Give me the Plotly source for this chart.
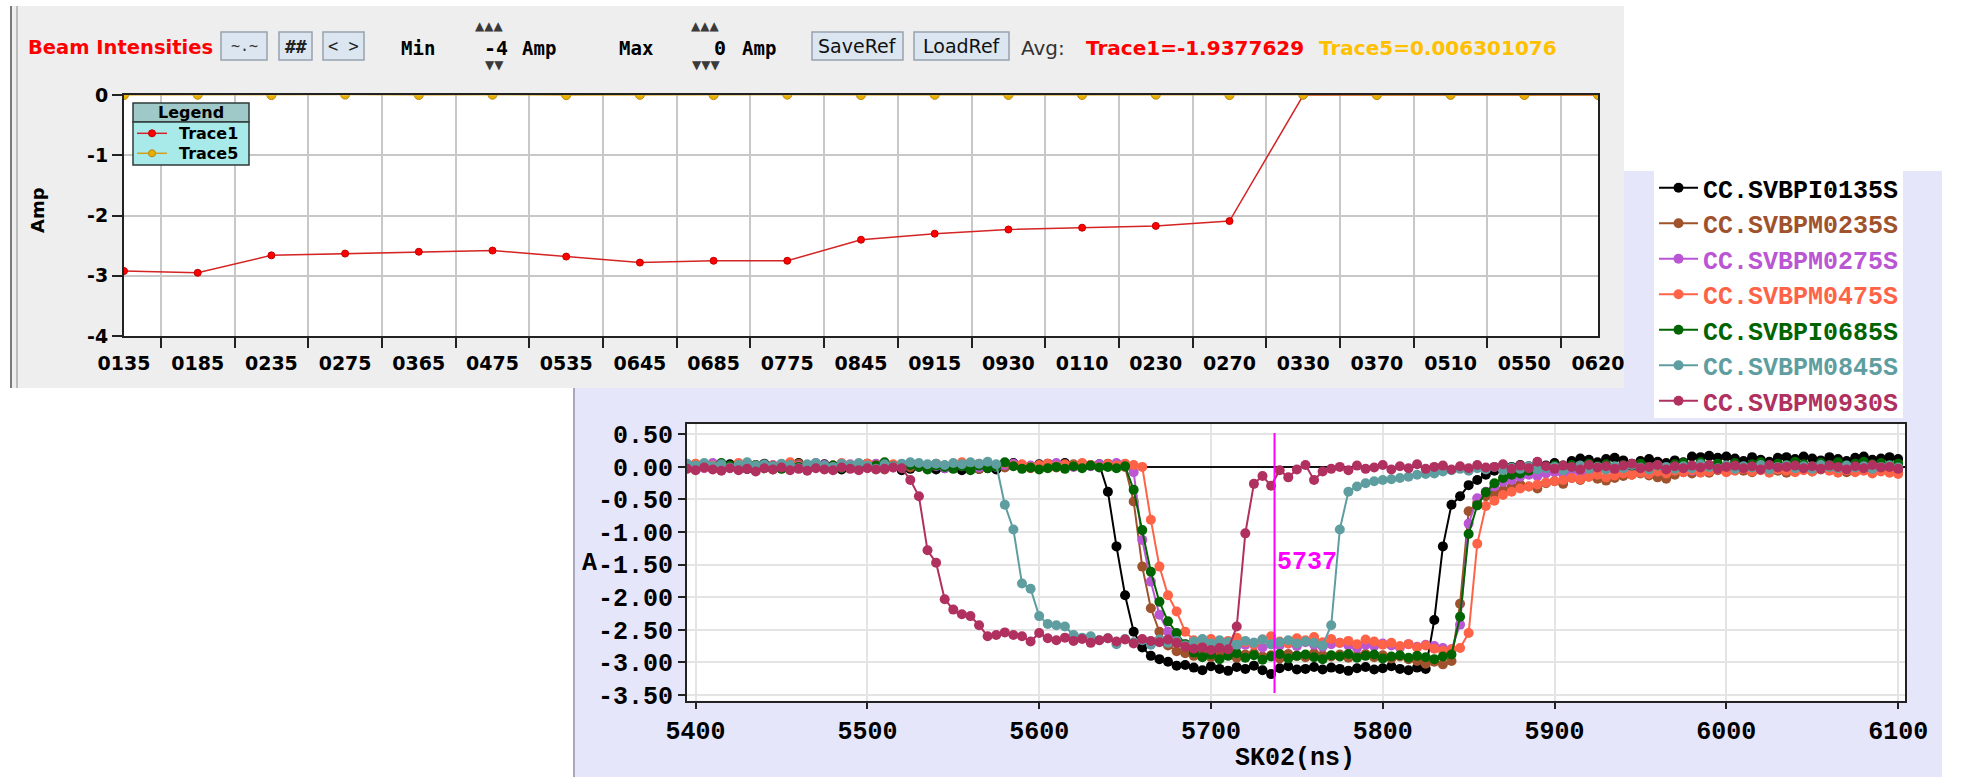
import plotly.graph_objects as go

W, H = 1973, 777

TOP_FONT = "DejaVu Sans"
TOP_MONO = "DejaVu Sans Mono"
MONO = "Liberation Mono"

# ---------------- upper panel: average beam intensity per monitor ----------------
MONITORS = ["0135", "0185", "0235", "0275", "0365", "0475", "0535", "0645", "0685", "0775",
            "0845", "0915", "0930", "0110", "0230", "0270", "0330", "0370", "0510", "0550", "0620"]
TRACE1 = [-2.92, -2.95, -2.66, -2.63, -2.60, -2.58, -2.68, -2.78, -2.75, -2.75,
          -2.40, -2.30, -2.23, -2.20, -2.17, -2.09, 0.0, 0.0, 0.0, 0.0, 0.0]
TRACE5 = [0.004, 0.009, 0.003, 0.012, 0.005, 0.010, 0.002, 0.007, 0.004, 0.011,
          0.003, 0.008, 0.006, 0.005, 0.010, 0.004, 0.009, 0.003, 0.007, 0.005, 0.005]
AMP_TICKS = [0, -1, -2, -3, -4]

# ---------------- lower panel: sampled pick-up signals ----------------
T0_NS = 5395      # first sample time
DT_NS = 5         # sampling period
CURSOR_NS = 5737

SVBPI0135 = [
    0.02, -0.01, 0.03, 0.00, -0.02, 0.04, 0.01, -0.03, 0.02, 0.05,
    0.00, -0.02, 0.03, 0.06, 0.01, -0.01, 0.04, 0.02, -0.04, 0.01,
    0.03, 0.05, -0.02, 0.00, 0.02, -0.05, -0.03, 0.01, 0.00, -0.04,
    -0.02, 0.01, -0.05, 0.00, -0.03, -0.02, -0.04, 0.00, 0.06, 0.02,
    -0.01, 0.04, 0.05, 0.01, 0.06, 0.03, 0.05, 0.02, 0.04, -0.38,
    -1.22, -1.97, -2.53, -2.77, -2.90, -2.95, -2.99, -3.05, -3.04, -3.08,
    -3.12, -3.06, -3.10, -3.13, -3.07, -3.10, -3.05, -3.12, -3.18, -3.09,
    -3.06, -3.11, -3.10, -3.07, -3.11, -3.08, -3.10, -3.13, -3.09, -3.07,
    -3.11, -3.09, -3.06, -3.10, -3.12, -3.08, -3.10, -2.35, -1.22, -0.58,
    -0.45, -0.28, -0.20, -0.12, -0.06, -0.02, 0.00, 0.03, 0.01, 0.04,
    0.02, 0.06, 0.02, 0.09, 0.13, 0.11, 0.07, 0.12, 0.14, 0.10,
    0.05, 0.09, 0.12, 0.08, 0.06, 0.10, 0.07, 0.16, 0.15, 0.17,
    0.14, 0.16, 0.13, 0.09, 0.15, 0.11, 0.08, 0.14, 0.15, 0.12,
    0.16, 0.13, 0.10, 0.15, 0.12, 0.09, 0.14, 0.16, 0.11, 0.13,
    0.15, 0.12]

SVBPM0235 = [
    -0.01, 0.03, 0.01, -0.03, 0.02, 0.00, 0.04, -0.02, 0.01, 0.03,
    -0.04, 0.02, 0.00, 0.05, -0.01, 0.02, -0.03, 0.01, 0.04, 0.00,
    -0.02, 0.03, 0.01, -0.04, 0.02, 0.00, -0.01, 0.03, -0.03, 0.02,
    0.01, -0.02, 0.04, 0.00, -0.03, 0.02, 0.01, -0.01, 0.03, 0.00,
    -0.02, 0.01, 0.03, -0.01, 0.02, 0.04, 0.00, 0.03, 0.01, 0.05,
    0.02, 0.00, -0.53, -1.53, -2.17, -2.53, -2.74, -2.83, -2.86, -2.90,
    -2.87, -2.92, -2.85, -2.89, -2.93, -2.88, -2.86, -2.91, -2.89, -2.94,
    -2.87, -2.90, -2.92, -2.86, -2.89, -2.91, -2.88, -2.93, -2.90, -2.87,
    -2.92, -2.89, -2.94, -2.91, -2.95, -2.98, -3.02, -2.99, -3.03, -2.98,
    -2.10, -0.68, -0.55, -0.45, -0.40, -0.36, -0.31, -0.27, -0.30, -0.33,
    -0.25, -0.22, -0.26, -0.17, -0.20, -0.15, -0.18, -0.21, -0.17, -0.14,
    -0.12, -0.10, -0.13, -0.16, -0.18, -0.12, -0.08, -0.10, -0.06, -0.09,
    -0.05, -0.07, -0.03, -0.06, -0.08, -0.04, -0.02, -0.06, -0.09, -0.05,
    -0.03, -0.07, -0.04, -0.02, -0.06, -0.08, -0.03, -0.05, -0.07, -0.04,
    -0.06, -0.08]

SVBPM0275 = [
    0.04, 0.01, -0.02, 0.06, 0.02, -0.01, 0.03, 0.05, 0.00, 0.02,
    0.03, -0.01, 0.05, 0.02, 0.00, 0.06, 0.03, -0.02, 0.01, 0.04,
    0.02, 0.00, 0.05, 0.03, -0.01, 0.02, 0.04, 0.00, 0.03, 0.01,
    -0.02, 0.03, 0.01, 0.04, -0.01, 0.02, 0.00, 0.03, 0.05, 0.01,
    0.02, -0.01, 0.04, 0.06, 0.02, 0.00, 0.03, 0.01, 0.04, 0.02,
    0.06, 0.03, -0.08, -1.12, -1.76, -2.27, -2.53, -2.66, -2.72, -2.74,
    -2.70, -2.76, -2.72, -2.69, -2.75, -2.73, -2.70, -2.77, -2.72, -2.74,
    -2.71, -2.75, -2.69, -2.73, -2.76, -2.72, -2.70, -2.74, -2.78, -2.73,
    -2.75, -2.71, -2.74, -2.77, -2.72, -2.76, -2.73, -2.75, -2.78, -2.80,
    -2.42, -0.87, -0.48, -0.38, -0.30, -0.23, -0.20, -0.15, -0.12, -0.14,
    -0.10, -0.08, -0.11, -0.06, -0.09, -0.05, -0.07, -0.04, -0.08, -0.03,
    -0.06, -0.02, -0.05, -0.07, -0.03, -0.01, -0.04, -0.06, -0.02, 0.00,
    -0.03, -0.05, 0.01, -0.02, -0.04, 0.02, -0.01, -0.03, 0.00, -0.02,
    0.01, -0.03, -0.01, 0.02, -0.02, 0.00, -0.04, 0.01, -0.01, -0.03,
    0.00, -0.02]

SVBPM0475 = [
    0.01, 0.05, -0.01, 0.02, 0.04, 0.00, 0.06, 0.02, 0.03, -0.01,
    0.02, 0.04, 0.07, 0.01, 0.03, 0.05, 0.00, 0.02, 0.06, 0.03,
    0.01, 0.05, 0.03, 0.00, 0.04, 0.02, 0.06, 0.01, 0.03, 0.05,
    0.02, 0.00, 0.07, 0.03, 0.05, 0.01, 0.03, 0.06, 0.02, 0.04,
    0.00, 0.03, 0.05, 0.01, 0.04, 0.02, 0.06, 0.03, 0.00, 0.04,
    0.02, 0.05, 0.03, 0.00, -0.81, -1.53, -1.97, -2.22, -2.53, -2.66,
    -2.70, -2.64, -2.72, -2.67, -2.62, -2.69, -2.73, -2.65, -2.60, -2.68,
    -2.71, -2.63, -2.66, -2.61, -2.69, -2.64, -2.70, -2.67, -2.72, -2.65,
    -2.68, -2.73, -2.70, -2.75, -2.72, -2.77, -2.74, -2.79, -2.82, -2.80,
    -2.78, -2.55, -1.18, -0.60, -0.52, -0.43, -0.38, -0.33, -0.30, -0.27,
    -0.24, -0.22, -0.20, -0.17, -0.19, -0.15, -0.12, -0.16, -0.13, -0.10,
    -0.12, -0.09, -0.11, -0.07, -0.10, -0.06, -0.08, -0.05, -0.09, -0.07,
    -0.04, -0.08, -0.06, -0.03, -0.07, -0.05, -0.09, -0.04, -0.06, -0.08,
    -0.05, -0.07, -0.03, -0.06, -0.09, -0.05, -0.08, -0.06, -0.10, -0.07,
    -0.09, -0.11]

SVBPI0685 = [
    -0.02, 0.01, 0.04, -0.01, 0.06, 0.02, -0.03, 0.00, 0.03, -0.02,
    0.01, -0.03, 0.02, 0.00, -0.04, 0.03, -0.01, 0.02, -0.02, 0.01,
    0.04, -0.01, 0.02, 0.07, 0.01, -0.02, 0.03, 0.00, -0.04, 0.02,
    0.00, -0.03, 0.01, -0.05, 0.02, -0.02, 0.00, 0.07, 0.01, -0.03,
    -0.01, -0.04, -0.02, 0.00, -0.03, 0.01, -0.02, 0.02, -0.01, 0.00,
    -0.02, 0.01, -0.35, -0.97, -1.61, -2.07, -2.37, -2.55, -2.72, -2.85,
    -2.92, -2.88, -2.95, -2.90, -2.86, -2.93, -2.89, -2.96, -2.91, -2.87,
    -2.94, -2.90, -2.88, -2.92, -2.95, -2.89, -2.91, -2.87, -2.93, -2.90,
    -2.88, -2.94, -2.91, -2.89, -2.93, -2.90, -2.92, -2.95, -2.91, -2.88,
    -2.30, -1.03, -0.59, -0.39, -0.25, -0.17, -0.12, -0.10, -0.06, -0.03,
    -0.01, 0.02, -0.02, 0.03, 0.00, 0.05, 0.01, 0.04, -0.01, 0.03,
    0.02, 0.05, 0.00, 0.03, -0.02, 0.04, 0.06, 0.01, 0.07, 0.03,
    0.05, 0.02, 0.06, 0.00, 0.04, 0.07, 0.02, 0.05, 0.03, 0.08,
    0.04, 0.01, 0.06, 0.03, 0.07, 0.02, 0.05, 0.08, 0.04, 0.06,
    0.03, 0.05]

SVBPM0845 = [
    0.05, 0.02, 0.06, 0.01, 0.04, -0.01, 0.03, 0.07, 0.02, 0.04,
    0.01, 0.05, 0.03, -0.02, 0.04, 0.06, 0.02, 0.00, 0.05, 0.03,
    0.06, 0.02, -0.03, 0.04, 0.01, 0.05, 0.07, 0.06, 0.04, 0.05,
    0.03, 0.06, 0.04, 0.07, 0.05, 0.08, 0.04, -0.58, -0.96, -1.79,
    -1.87, -2.29, -2.41, -2.43, -2.45, -2.58, -2.62, -2.60, -2.66, -2.63,
    -2.72, -2.64, -2.69, -2.66, -2.73, -2.65, -2.70, -2.67, -2.74, -2.68,
    -2.64, -2.71, -2.66, -2.69, -2.73, -2.67, -2.70, -2.65, -2.72, -2.69,
    -2.66, -2.71, -2.68, -2.70, -2.74, -2.43, -0.96, -0.38, -0.30, -0.25,
    -0.22, -0.20, -0.19, -0.17, -0.15, -0.12, -0.11, -0.10, -0.07, -0.05,
    -0.03, -0.06, -0.02, -0.04, 0.00, -0.05, -0.01, -0.03, 0.01, -0.04,
    -0.02, 0.00, -0.05, -0.01, 0.02, -0.03, 0.00, -0.04, 0.01, -0.02,
    0.03, -0.01, -0.04, 0.02, 0.00, -0.03, 0.01, -0.02, 0.04, 0.00,
    -0.02, 0.02, -0.03, 0.01, -0.01, 0.03, -0.04, 0.00, 0.02, -0.02,
    0.01, -0.03, 0.03, 0.00, -0.02, 0.02, -0.01, 0.01, -0.03, 0.00,
    0.02, -0.01]

SVBPM0930 = [
    -0.03, -0.05, -0.01, -0.04, -0.06, -0.02, -0.05, -0.03, -0.07, -0.02,
    -0.04, -0.01, -0.05, -0.03, -0.06, -0.02, -0.04, -0.05, -0.01, -0.03,
    -0.05, -0.02, -0.04, -0.03, -0.01, -0.02, -0.20, -0.45, -1.28, -1.47,
    -2.03, -2.19, -2.26, -2.29, -2.43, -2.60, -2.58, -2.54, -2.58, -2.60,
    -2.68, -2.55, -2.63, -2.66, -2.62, -2.67, -2.64, -2.70, -2.66, -2.63,
    -2.68, -2.65, -2.71, -2.64, -2.67, -2.69, -2.65, -2.70, -2.76, -2.79,
    -2.77, -2.81, -2.78, -2.80, -2.45, -1.02, -0.26, -0.14, -0.29, -0.05,
    -0.16, -0.04, 0.03, -0.20, -0.07, -0.03, 0.00, -0.05, 0.02, -0.03,
    -0.01, 0.03, -0.04, 0.01, -0.02, 0.04, -0.03, 0.00, 0.02, -0.04,
    0.01, -0.02, 0.03, -0.01, 0.00, 0.04, -0.03, 0.02, -0.02, 0.08,
    0.01, -0.03, 0.02, 0.00, -0.04, 0.03, -0.01, 0.01, -0.03, 0.02,
    0.05, -0.02, 0.00, 0.03, -0.04, 0.01, -0.02, 0.02, -0.01, 0.03,
    -0.03, 0.00, 0.02, -0.02, 0.01, -0.04, 0.03, -0.01, 0.00, 0.02,
    -0.02, 0.01, -0.03, 0.02, 0.00, -0.04, 0.01, -0.02, 0.03, -0.01,
    0.00, -0.03]

SIGNAL_NAMES = ["CC.SVBPI0135S", "CC.SVBPM0235S", "CC.SVBPM0275S", "CC.SVBPM0475S",
                "CC.SVBPI0685S", "CC.SVBPM0845S", "CC.SVBPM0930S"]
SIGNAL_COLORS = ["#000000", "#A0522D", "#BA55D3", "#FF6347", "#006400", "#5F9EA0", "#B0305F"]
SIGNALS = [SVBPI0135, SVBPM0235, SVBPM0275, SVBPM0475, SVBPI0685, SVBPM0845, SVBPM0930]

X_TICKS = [5400, 5500, 5600, 5700, 5800, 5900, 6000, 6100]
Y_TICKS = [0.5, 0.0, -0.5, -1.0, -1.5, -2.0, -2.5, -3.0, -3.5]

for s in SIGNALS:
    assert len(s) == len(SIGNALS[0])
TIMES = [T0_NS + DT_NS * i for i in range(len(SVBPI0135))]


# ---------------- helpers: pixel -> paper coordinates ----------------
def fx(px):
    return px / W


def fy(py):
    return 1 - py / H


def rect(x0, y0, x1, y1, fill, line=None, lw=0, layer="below"):
    return dict(type="rect", xref="paper", yref="paper",
                x0=fx(x0), x1=fx(x1), y0=fy(y1), y1=fy(y0),
                fillcolor=fill, line=dict(color=line or fill, width=lw), layer=layer)


def hline(x0, x1, y, color, lw, layer="below"):
    return dict(type="line", xref="paper", yref="paper", x0=fx(x0), x1=fx(x1),
                y0=fy(y), y1=fy(y), line=dict(color=color, width=lw), layer=layer)


def vline(x, y0, y1, color, lw, layer="below"):
    return dict(type="line", xref="paper", yref="paper", x0=fx(x), x1=fx(x),
                y0=fy(y0), y1=fy(y1), line=dict(color=color, width=lw), layer=layer)


def dot(cx, cy, r, fill, edge, layer="above"):
    return dict(type="circle", xref="paper", yref="paper",
                x0=fx(cx - r), x1=fx(cx + r), y0=fy(cy + r), y1=fy(cy - r),
                fillcolor=fill, line=dict(color=edge, width=1), layer=layer)


def text(s, x, y, size, color="#000000", family=TOP_FONT, weight="normal",
         xanchor="left", yanchor="middle", angle=0):
    return dict(text=s, x=fx(x), y=fy(y), xref="paper", yref="paper", showarrow=False,
                xanchor=xanchor, yanchor=yanchor, textangle=angle,
                font=dict(family=family, size=size, color=color, weight=weight))


fig = go.Figure()

# upper panel traces
idx = list(range(len(MONITORS)))
fig.add_trace(go.Scatter(
    x=idx, y=TRACE1, xaxis="x", yaxis="y", mode="lines+markers", showlegend=False,
    line=dict(color="#D42424", width=1.5),
    marker=dict(color="#FF0000", size=7, line=dict(color="#C00000", width=1))))
fig.add_trace(go.Scatter(
    x=idx, y=TRACE5, xaxis="x", yaxis="y", mode="lines+markers", showlegend=False,
    line=dict(color="#D4A017", width=1.5),
    marker=dict(color="#E8B000", size=9, line=dict(color="#B8860B", width=1))))

# lower panel traces
for name, color, vals in zip(SIGNAL_NAMES, SIGNAL_COLORS, SIGNALS):
    fig.add_trace(go.Scatter(
        x=TIMES, y=vals, xaxis="x2", yaxis="y2", mode="lines+markers",
        name=f'<span style="color:{color}">{name}</span>',
        line=dict(color=color, width=2),
        marker=dict(color=color, size=10)))

# ---------------- backgrounds and widgets ----------------
shapes = [
    rect(574, 171, 1942, 777, "#E6E6FA"),
    vline(574, 388, 777, "#A9A9BC", 2),
    rect(10, 6, 1624, 388, "#EEEEEE"),
    vline(11, 6, 388, "#7A7A7A", 2),
    vline(17, 6, 388, "#ABABAB", 1.5),
    rect(124, 95.3, 1598, 336, "#FFFFFF"),
    rect(687, 424.3, 1905, 700.7, "#FFFFFF"),
    rect(1654, 171, 1903, 418, "#FFFFFF"),
]
buttons = [(221, 267), (279, 312), (323, 364), (812, 903), (914, 1009)]
for bx0, bx1 in buttons:
    shapes.append(rect(bx0, 32, bx1, 60, "#DCE6F0", "#97A3AE", 1.5))

# legend box of the upper panel
shapes += [
    rect(133, 103, 249, 122, "#9FC9C9", "#2F3A3A", 1.5, layer="above"),
    rect(133, 122, 249, 165, "#A8E9E9", "#2F3A3A", 1.5, layer="above"),
    hline(137, 167, 133.3, "#D42424", 1.5, layer="above"),
    dot(152, 133.3, 3.5, "#FF0000", "#C00000"),
    hline(137, 167, 153.3, "#D4A017", 1.5, layer="above"),
    dot(152, 153.3, 3.5, "#E8B000", "#B8860B"),
]

# cursor in the lower panel
shapes.append(dict(type="line", xref="x2", yref="y2", x0=CURSOR_NS, x1=CURSOR_NS,
                   y0=-3.47, y1=0.52, line=dict(color="#FF00FF", width=2), layer="above"))

annotations = [
    text("Beam Intensities", 26, 47.5, 19.5, "#FF0000", weight="bold"),
    text("~.~", 244, 46, 15, "#333333", TOP_MONO, xanchor="center"),
    text("##", 295.5, 46, 18, "#222222", TOP_MONO, "bold", xanchor="center"),
    text("< >", 343.5, 46, 17, "#222222", TOP_MONO, xanchor="center"),
    text("Min", 399, 47.5, 19, "#000000", TOP_MONO, "bold"),
    text("▲▲▲", 488.5, 26, 12, "#3A3A3A", xanchor="center"),
    text("-4", 510, 47.5, 20, "#000000", TOP_MONO, "bold", xanchor="right"),
    text("▼▼", 495, 65, 12, "#3A3A3A", xanchor="center"),
    text("Amp", 520, 47.5, 19, "#000000", TOP_MONO, "bold"),
    text("Max", 617, 47.5, 19, "#000000", TOP_MONO, "bold"),
    text("▲▲▲", 705, 26, 12, "#3A3A3A", xanchor="center"),
    text("0", 728, 47.5, 20, "#000000", TOP_MONO, "bold", xanchor="right"),
    text("▼▼▼", 705.5, 65, 12, "#3A3A3A", xanchor="center"),
    text("Amp", 740, 47.5, 19, "#000000", TOP_MONO, "bold"),
    text("SaveRef", 857.5, 46, 19, "#111111", xanchor="center"),
    text("LoadRef", 961.5, 46, 19, "#111111", xanchor="center"),
    text("Avg:", 1019, 47.5, 20, "#333333"),
    text("Trace1=-1.9377629", 1084, 47.5, 20, "#FF0000", weight="bold"),
    text("Trace5=0.006301076", 1317, 47.5, 20, "#FFC000", weight="bold"),
    text("Amp", 37, 210, 18, "#000000", weight="bold", xanchor="center", angle=-90),
    text("Legend", 191, 112.5, 16, "#000000", weight="bold", xanchor="center"),
    text("Trace1", 177, 133.3, 16, "#000000", weight="bold"),
    text("Trace5", 177, 153.3, 16, "#000000", weight="bold"),
    text("A", 589, 563, 25, "#000000", MONO, "bold", xanchor="center"),
    text("SK02(ns)", 1295, 758, 25, "#000000", MONO, "bold", xanchor="center"),
    dict(text=str(CURSOR_NS), x=CURSOR_NS, y=-1.47, xref="x2", yref="y2", showarrow=False,
         xanchor="left", yanchor="middle",
         font=dict(family=MONO, size=25, color="#FF00FF", weight="bold")),
]

top_tick_font = dict(family=TOP_FONT, size=19, color="#000000", weight="bold")
mono_tick_font = dict(family=MONO, size=25, color="#000000", weight="bold")

fig.update_layout(
    template="none",
    width=W, height=H,
    margin=dict(l=0, r=0, t=0, b=0, pad=0, autoexpand=False),
    paper_bgcolor="#FFFFFF",
    plot_bgcolor="rgba(0,0,0,0)",
    showlegend=True,
    shapes=shapes,
    annotations=annotations,
    xaxis=dict(
        domain=[fx(124), fx(1598)], range=[0, len(MONITORS) - 1], anchor="y",
        automargin=False,
        tickmode="array", tickvals=idx, ticktext=MONITORS, ticks="",
        ticklabelstandoff=9,
        showgrid=False, zeroline=False, showline=True, linecolor="#222222",
        linewidth=2, mirror=True, tickfont=top_tick_font, fixedrange=True,
        minor=dict(tickmode="array", tickvals=[i + 0.5 for i in idx[:-1]],
                   ticks="outside", ticklen=10, tickwidth=1.5, tickcolor="#222222",
                   showgrid=True, gridcolor="#C8C8C8", gridwidth=1.5)),
    yaxis=dict(
        domain=[fy(336), fy(95.3)], range=[-4, 0], anchor="x", automargin=False,
        tickmode="array", tickvals=AMP_TICKS, ticktext=[str(v) for v in AMP_TICKS],
        ticks="outside", ticklen=10, tickwidth=1.5, tickcolor="#222222",
        showgrid=True, gridcolor="#C8C8C8", gridwidth=1.5, zeroline=False,
        showline=True, linecolor="#222222", linewidth=2, mirror=True,
        tickfont=top_tick_font, fixedrange=True),
    xaxis2=dict(
        domain=[fx(687), fx(1905)], range=[5395, 6104], anchor="y2", automargin=False,
        tickmode="array", tickvals=X_TICKS, ticktext=[str(v) for v in X_TICKS],
        ticks="outside", ticklen=6, tickwidth=2, tickcolor="#222222",
        showgrid=True, gridcolor="#E4E4E4", gridwidth=2, zeroline=False,
        showline=True, linecolor="#222222", linewidth=2, mirror=True,
        tickfont=mono_tick_font, fixedrange=True),
    yaxis2=dict(
        domain=[fy(700.7), fy(424.3)], range=[-3.588, 0.654], anchor="x2",
        automargin=False,
        tickmode="array", tickvals=Y_TICKS, ticktext=[f"{v:.2f}" for v in Y_TICKS],
        ticks="outside", ticklen=7, tickwidth=2, tickcolor="#222222",
        showgrid=True, gridcolor="#E4E4E4", gridwidth=2,
        zeroline=True, zerolinecolor="#111111", zerolinewidth=2,
        showline=True, linecolor="#222222", linewidth=2, mirror=True,
        tickfont=mono_tick_font, fixedrange=True),
    legend=dict(
        x=fx(1654), y=fy(165), xanchor="left", yanchor="top",
        bgcolor="rgba(0,0,0,0)", borderwidth=0, itemwidth=39, tracegroupgap=0,
        font=dict(family=MONO, size=25, color="#000000", weight="bold")),
)

fig.write_html("out.html", include_plotlyjs=True, config={"displayModeBar": False})
